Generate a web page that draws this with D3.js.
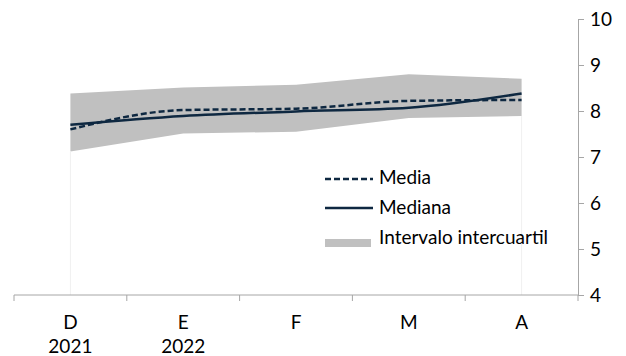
<!DOCTYPE html>
<html><head><meta charset="utf-8">
<script src="https://cdn.jsdelivr.net/npm/d3@7"></script>
<style>body{margin:0;background:#fff}svg{display:block}</style>
</head><body>
<script>
const months = ["D","E","F","M","A"];
const years = ["2021","2022","","",""];
const media = [7.60, 8.02, 8.05, 8.22, 8.24];
const mediana = [7.70, 7.89, 7.99, 8.07, 8.38];
const q1 = [7.12, 7.51, 7.55, 7.85, 7.89];
const q3 = [8.38, 8.51, 8.57, 8.80, 8.70];
const yTicks = [4,5,6,7,8,9,10];

const W=626,H=356;
const font = "Lato, 'Open Sans', sans-serif";
const fs = 19;
const svg = d3.select("body").append("svg").attr("width",W).attr("height",H);
const x = d3.scaleBand().domain(months).range([14,578]);
const y = d3.scaleLinear().domain([4,10]).range([295,19]);
const cx = d => x(d)+x.bandwidth()/2;

// band
const area = d3.area().x((d,i)=>cx(months[i])).y0((d,i)=>y(q1[i])).y1((d,i)=>y(q3[i]));
svg.append("path").datum(months).attr("d",area).attr("fill","#c0c0c0");
// faint drop lines
[0,months.length-1].forEach(i=>{
  svg.append("line").attr("x1",cx(months[i])).attr("x2",cx(months[i]))
    .attr("y1",y(q1[i])).attr("y2",y(4)).attr("stroke","#f0f0f0").attr("stroke-width",1);
});

const line = arr => d3.line().x((d,i)=>cx(months[i])).y(d=>y(d)).curve(d3.curveMonotoneX)(arr);
svg.append("path").attr("d",line(mediana)).attr("fill","none").attr("stroke","#0e2841").attr("stroke-width",2.5);
svg.append("path").attr("d",line(media)).attr("fill","none").attr("stroke","#0e2841").attr("stroke-width",2.5).attr("stroke-dasharray","6,3");

// x axis
const xa = svg.append("g").attr("transform",`translate(0,${y(4)})`);
xa.append("line").attr("x1",14).attr("x2",578).attr("stroke","#a6a6a6");
const bounds = months.map(m=>x(m)).concat([578]);
bounds.forEach(b=>xa.append("line").attr("x1",b).attr("x2",b).attr("y1",0).attr("y2",6).attr("stroke","#a6a6a6"));
months.forEach((m,i)=>{
  xa.append("text").attr("x",cx(m)).attr("y",34).attr("text-anchor","middle").attr("font-family",font).attr("font-size",fs).attr("fill","#000").text(m);
  if(years[i]) xa.append("text").attr("x",cx(m)).attr("y",58).attr("text-anchor","middle").attr("font-family",font).attr("font-size",fs).attr("fill","#000").text(years[i]);
});

// y axis right
const ya = svg.append("g").attr("transform","translate(578,0)");
const axisR = d3.axisRight(y).tickValues(yTicks).tickSize(6).tickPadding(6).tickFormat(d3.format("d"));
ya.call(axisR);
ya.select(".domain").attr("stroke","#a6a6a6");
ya.selectAll(".tick line").attr("stroke","#a6a6a6");
ya.selectAll(".tick text").attr("font-family",font).attr("font-size",fs).attr("fill","#000");

// legend
const lg = svg.append("g").attr("font-family",font).attr("font-size",fs).attr("fill","#000");
lg.append("line").attr("x1",325).attr("x2",373).attr("y1",179).attr("y2",179).attr("stroke","#0e2841").attr("stroke-width",2.5).attr("stroke-dasharray","6,3");
lg.append("text").attr("x",379).attr("y",184).text("Media");
lg.append("line").attr("x1",325).attr("x2",373).attr("y1",208).attr("y2",208).attr("stroke","#0e2841").attr("stroke-width",2.5);
lg.append("text").attr("x",379).attr("y",214).text("Mediana");
lg.append("rect").attr("x",325).attr("y",239).attr("width",46).attr("height",8).attr("fill","#c0c0c0");
lg.append("text").attr("x",379).attr("y",244).text("Intervalo intercuartil");
</script>
</body></html>
